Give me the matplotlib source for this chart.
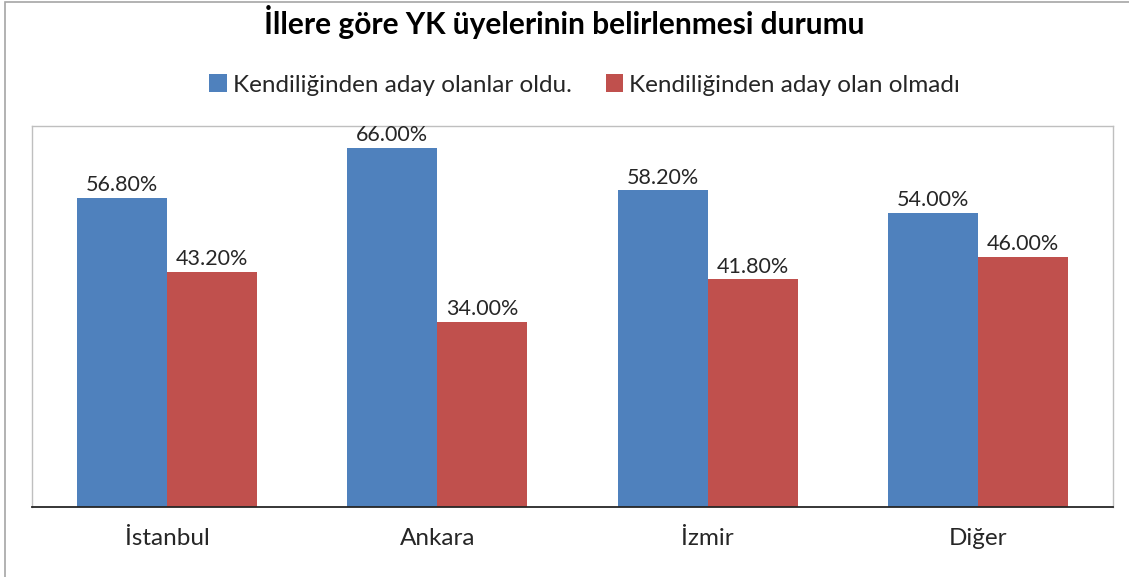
import numpy as np
import matplotlib.pyplot as plt
from matplotlib.patches import Rectangle

plt.rcParams['font.family'] = ['Lato', 'DejaVu Sans']

# data
cities = ['İstanbul', 'Ankara', 'İzmir', 'Diğer']
aday_oldu = [56.8, 66.0, 58.2, 54.0]
aday_olmadi = [43.2, 34.0, 41.8, 46.0]
series_names = ['Kendiliğinden aday olanlar oldu.', 'Kendiliğinden aday olan olmadı']

blue = '#4F81BD'
red = '#C0504D'

fig = plt.figure(figsize=(11.29, 5.77), dpi=100)
ax = fig.add_axes([32 / 1129, 70 / 577, 1081 / 1129, 381 / 577])

index = np.arange(len(cities))
bar_width = 1 / 3

rects1 = ax.bar(index - bar_width / 2, aday_oldu, bar_width, color=blue, label=series_names[0])
rects2 = ax.bar(index + bar_width / 2, aday_olmadi, bar_width, color=red, label=series_names[1])

for rects in (rects1, rects2):
    for r in rects:
        ax.text(r.get_x() + r.get_width() / 2, r.get_height() + 0.5, '%.2f%%' % r.get_height(),
                ha='center', va='bottom', fontsize=15.5, color='#262626')

ax.set_xlim(-0.5, len(cities) - 0.5)
ax.set_ylim(0, 70)
ax.set_yticks([])
ax.set_xticks(index)
ax.set_xticklabels(cities, fontsize=17.5, color='#262626')
ax.tick_params(axis='x', length=0, pad=15)

for side in ('top', 'left', 'right'):
    ax.spines[side].set_color('#BFBFBF')
    ax.spines[side].set_linewidth(1)
ax.spines['bottom'].set_color('#262626')
ax.spines['bottom'].set_linewidth(1.3)

fig.text(0.5, 1 - 22 / 577, 'İllere göre YK üyelerinin belirlenmesi durumu',
         ha='center', va='center', fontsize=21.5, fontweight='bold', color='black')

fig.legend(handles=[rects1, rects2], loc='center', bbox_to_anchor=(0.518, 1 - 85 / 577),
           ncol=2, frameon=False, fontsize=17.5, handlelength=0.72, handleheight=0.72,
           handletextpad=0.25, columnspacing=1.4, labelcolor='#262626')

# outer chart border
fig.patches.append(Rectangle((5 / 1129, -0.05), 1.2, 1.05 - 2 / 577, transform=fig.transFigure,
                             fill=False, edgecolor='#A6A6A6', linewidth=1.2))

fig.savefig('out.png', dpi=100)
